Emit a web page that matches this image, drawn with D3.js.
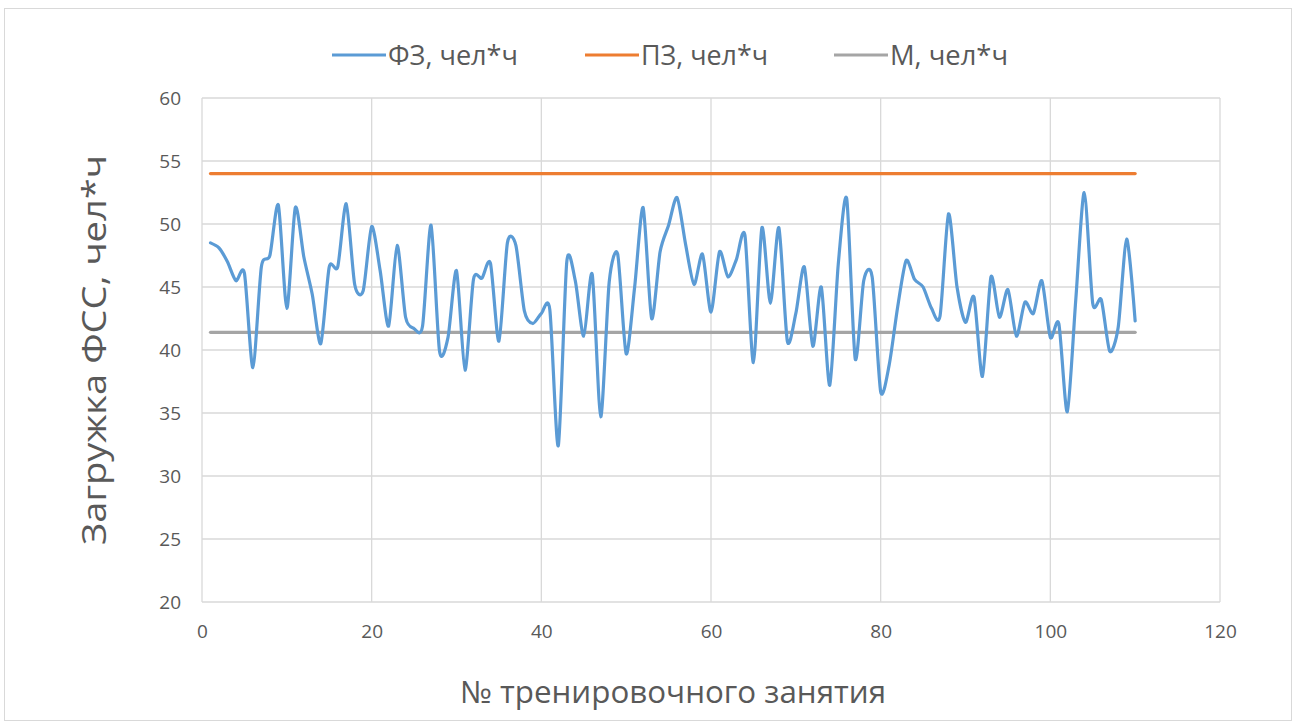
<!DOCTYPE html>
<html>
<head>
<meta charset="utf-8">
<script src="https://cdn.jsdelivr.net/npm/d3@7"></script>
<style>
  html, body { margin: 0; padding: 0; background: #fff; }
  svg { display: block; font-family: "Open Sans", "Liberation Sans", Arial, sans-serif; }
</style>
</head>
<body>
<svg id="chart" width="1297" height="726"></svg>
<script>
// Session load, person-hours, sessions 1..110
const fzValues = [
  48.5, 48.1, 47.0, 45.5, 46.1, 38.6, 46.6, 47.5, 51.5, 43.3,
  51.3, 47.4, 44.4, 40.5, 46.6, 46.6, 51.6, 45.2, 44.7, 49.8,
  46.3, 41.9, 48.3, 42.6, 41.7, 41.9, 49.9, 39.9, 41.0, 46.3,
  38.4, 45.6, 45.7, 46.9, 40.7, 48.5, 48.3, 43.1, 42.1, 42.9,
  43.2, 32.4, 47.0, 45.5, 41.1, 46.0, 34.7, 45.4, 47.6, 39.7,
  45.0, 51.3, 42.5, 47.8, 49.9, 52.1, 48.4, 45.2, 47.6, 43.0,
  47.8, 45.8, 47.2, 49.1, 39.0, 49.7, 43.7, 49.7, 40.7, 42.9,
  46.6, 40.3, 45.0, 37.2, 46.8, 52.0, 39.3, 45.5, 45.8, 36.7,
  38.8, 43.4, 47.1, 45.6, 45.0, 43.3, 42.7, 50.8, 45.0, 42.2,
  44.2, 37.9, 45.8, 42.6, 44.8, 41.1, 43.8, 42.9, 45.5, 41.0,
  42.1, 35.1, 44.0, 52.5, 43.7, 44.0, 39.9, 41.8, 48.8, 42.3
];
const sessions = fzValues.map((_, i) => i + 1);
const pzValue = 54;     // planned load
const mValue = 41.4;    // mean

const seriesNames = ["ФЗ, чел*ч", "ПЗ, чел*ч", "М, чел*ч"];
const seriesColors = ["#5b9bd5", "#ed7d31", "#a5a5a5"];
const xTicks = [0, 20, 40, 60, 80, 100, 120];
const yTicks = [20, 25, 30, 35, 40, 45, 50, 55, 60];
const xTitle = "№ тренировочного занятия";
const yTitle = "Загружка ФСС, чел*ч";

const svg = d3.select("#chart");
const W = 1297, H = 726;
const plot = { left: 202, right: 1220, top: 98, bottom: 602 };
const textColor = "#595959";

// outer frame
svg.append("rect")
  .attr("x", 4.5).attr("y", 8.5).attr("width", W - 10).attr("height", H - 14)
  .attr("fill", "#fff").attr("stroke", "#d9d9d9").attr("stroke-width", 1);

const x = d3.scaleLinear().domain([0, 120]).range([plot.left, plot.right]);
const y = d3.scaleLinear().domain([20, 60]).range([plot.bottom, plot.top]);

// gridlines
const grid = svg.append("g").attr("stroke", "#d9d9d9").attr("stroke-width", 1.3);
grid.selectAll(".gy").data(yTicks).join("line")
  .attr("x1", plot.left).attr("x2", plot.right)
  .attr("y1", d => y(d)).attr("y2", d => y(d));
grid.selectAll(".gx").data(xTicks).join("line")
  .attr("y1", plot.top).attr("y2", plot.bottom)
  .attr("x1", d => x(d)).attr("x2", d => x(d));

// axes (labels only; lines come from the grid)
const yAxis = svg.append("g").attr("transform", `translate(${plot.left},0)`)
  .call(d3.axisLeft(y).tickValues(yTicks).tickSize(0).tickPadding(21));
const xAxis = svg.append("g").attr("transform", `translate(0,${plot.bottom})`)
  .call(d3.axisBottom(x).tickValues(xTicks).tickSize(0).tickPadding(23));
[yAxis, xAxis].forEach(a => {
  a.select(".domain").remove();
  a.selectAll("text").attr("fill", textColor).attr("font-size", 19)
    .attr("font-family", "'Open Sans', 'Liberation Sans', Arial, sans-serif");
});

// reference lines
svg.append("line")
  .attr("x1", x(sessions[0])).attr("x2", x(sessions[sessions.length - 1]))
  .attr("y1", y(pzValue)).attr("y2", y(pzValue))
  .attr("stroke", seriesColors[1]).attr("stroke-width", 3.2).attr("stroke-linecap", "round");
svg.append("line")
  .attr("x1", x(sessions[0])).attr("x2", x(sessions[sessions.length - 1]))
  .attr("y1", y(mValue)).attr("y2", y(mValue))
  .attr("stroke", seriesColors[2]).attr("stroke-width", 3.2).attr("stroke-linecap", "round");

// actual load, smoothed
const line = d3.line()
  .x((d, i) => x(sessions[i]))
  .y(d => y(d))
  .curve(d3.curveCardinal.tension(0.25));
svg.append("path").datum(fzValues)
  .attr("d", line).attr("fill", "none")
  .attr("stroke", seriesColors[0]).attr("stroke-width", 3.2)
  .attr("stroke-linecap", "round").attr("stroke-linejoin", "round");

// legend
const legendX = [332, 585, 834];
const legendTextW = [130, 127, 118];
const lg = svg.append("g");
seriesNames.forEach((name, i) => {
  lg.append("line")
    .attr("x1", legendX[i]).attr("x2", legendX[i] + 54)
    .attr("y1", 55).attr("y2", 55)
    .attr("stroke", seriesColors[i]).attr("stroke-width", 3.2);
  lg.append("text")
    .attr("x", legendX[i] + 56).attr("y", 65)
    .attr("font-size", 27).attr("fill", textColor)
    .attr("textLength", legendTextW[i]).attr("lengthAdjust", "spacingAndGlyphs")
    .text(name);
});

// axis titles
svg.append("text")
  .attr("x", 673).attr("y", 703)
  .attr("text-anchor", "middle").attr("font-size", 31).attr("fill", textColor)
  .attr("textLength", 426).attr("lengthAdjust", "spacingAndGlyphs")
  .text(xTitle);
svg.append("text")
  .attr("transform", `translate(106,${(plot.top + plot.bottom) / 2}) rotate(-90)`)
  .attr("text-anchor", "middle").attr("font-size", 32).attr("fill", textColor)
  .attr("textLength", 390).attr("lengthAdjust", "spacingAndGlyphs")
  .text(yTitle);
</script>
</body>
</html>
